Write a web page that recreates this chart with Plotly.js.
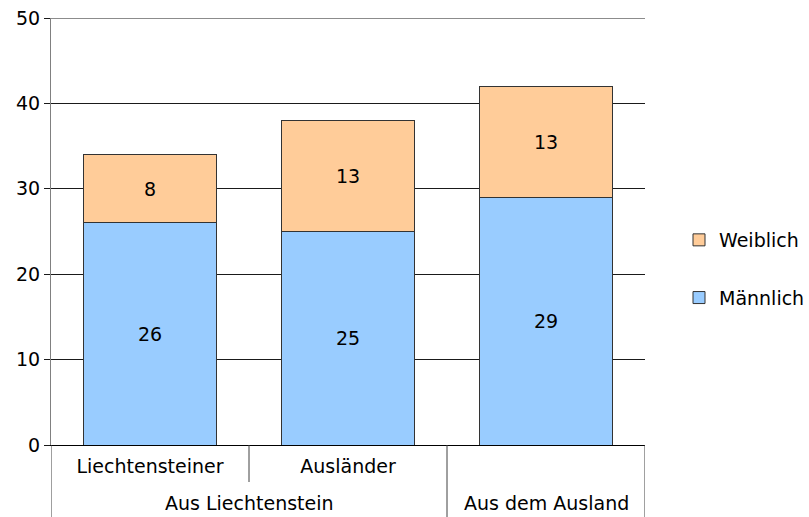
<!DOCTYPE html>
<html>
<head>
<meta charset="utf-8">
<script src="https://cdn.plot.ly/plotly-3.0.1.min.js"></script>
<style>html,body{margin:0;padding:0;background:#fff;}#chart{width:809px;height:517px;}</style>
</head>
<body>
<div id="chart"></div>
<script>
const groups = ["Aus Liechtenstein", "Aus dem Ausland"];
const subcats = ["Liechtensteiner", "Ausländer", ""];
const maennlich = [26, 25, 29];
const weiblich = [8, 13, 13];

const FONT = "DejaVu Sans, Liberation Sans, Arial, sans-serif";
const FS = 19;
const xs = subcats.map((_, i) => i);

const traces = [
  {
    type: "bar", name: "Männlich", x: xs, y: maennlich,
    text: maennlich.map(String), textposition: "inside", insidetextanchor: "middle",
    textfont: {family: FONT, size: FS, color: "#000"},
    marker: {color: "#99CCFF", line: {color: "#333333", width: 1}},
    width: 0.667, legendgroup: "m", legendrank: 2, hoverinfo: "none"
  },
  {
    type: "bar", name: "Weiblich", x: xs, y: weiblich,
    text: weiblich.map(String), textposition: "inside", insidetextanchor: "middle",
    textfont: {family: FONT, size: FS, color: "#000"},
    marker: {color: "#FFCC99", line: {color: "#333333", width: 1}},
    width: 0.667, legendgroup: "w", legendrank: 1, hoverinfo: "none"
  }
];

const H = 427; // plot height px
const shapes = [];
const divFull = [-0.5, 1.5, 2.5];
divFull.forEach(x => shapes.push({type: "line", xref: "x", yref: "paper", x0: x, x1: x, y0: 0, y1: -72 / H, line: {color: "#404040", width: 1}}));
shapes.push({type: "line", xref: "x", yref: "paper", x0: 0.5, x1: 0.5, y0: 0, y1: -37 / H, line: {color: "#404040", width: 1}});
// top gridline at 50
shapes.push({type: "line", xref: "paper", yref: "y", x0: 0, x1: 1, y0: 50, y1: 50, line: {color: "#1a1a1a", width: 1}, layer: "below"});

const annotations = [
  {text: groups[0], x: 0.5, xref: "x", y: -58 / H, yref: "paper", showarrow: false, yanchor: "middle", font: {family: FONT, size: FS, color: "#000"}},
  {text: groups[1], x: 2, xref: "x", y: -58 / H, yref: "paper", showarrow: false, yanchor: "middle", font: {family: FONT, size: FS, color: "#000"}}
];

const layout = {
  width: 809, height: 517,
  margin: {l: 51, r: 164, t: 18, b: 72},
  paper_bgcolor: "#fff", plot_bgcolor: "#fff",
  barmode: "stack",
  font: {family: FONT, size: FS, color: "#000"},
  xaxis: {
    range: [-0.5, 2.5], tickvals: xs, ticktext: subcats,
    showgrid: false, zeroline: false, showline: true, linecolor: "#000", linewidth: 1,
    ticks: "", ticklabelstandoff: 4,
    tickfont: {family: FONT, size: FS, color: "#000"}, fixedrange: true
  },
  yaxis: {
    range: [0, 50], dtick: 10, tick0: 0,
    showgrid: true, gridcolor: "#1a1a1a", gridwidth: 1,
    zeroline: false, showline: true, linecolor: "#808080", linewidth: 1,
    ticks: "outside", ticklen: 6, tickcolor: "#1a1a1a",
    tickfont: {family: FONT, size: FS, color: "#000"}, fixedrange: true
  },
  showlegend: true,
  legend: {
    xref: "container", yref: "container",
    x: 679 / 809, xanchor: "left", y: 1 - 269 / 517, yanchor: "middle",
    traceorder: "grouped", tracegroupgap: 30,
    font: {family: FONT, size: FS, color: "#000"},
    bgcolor: "rgba(0,0,0,0)"
  },
  shapes: shapes,
  annotations: annotations
};

Plotly.newPlot("chart", traces, layout, {displayModeBar: false, staticPlot: true});
</script>
</body>
</html>
